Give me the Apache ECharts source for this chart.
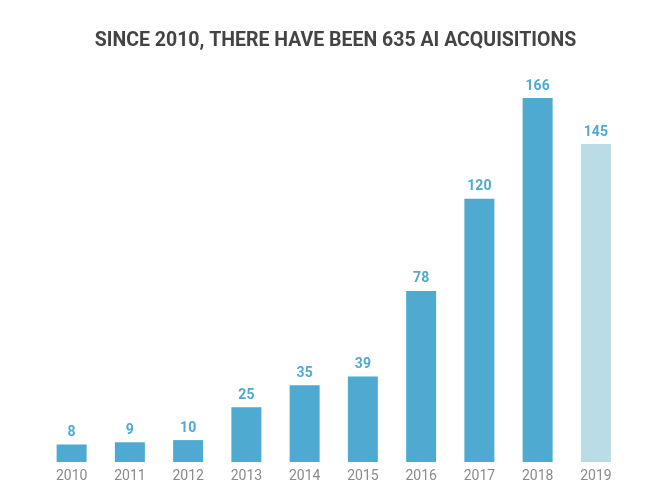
<!DOCTYPE html>
<html>
<head>
<meta charset="utf-8">
<script src="https://cdn.jsdelivr.net/npm/echarts@6/dist/echarts.min.js"></script>
<style>
html,body{margin:0;padding:0;background:#fff;}
#chart{width:671px;height:492px;}
</style>
</head>
<body>
<div id="chart"></div>
<script>
const titleText = 'SINCE 2010, THERE HAVE BEEN 635 AI ACQUISITIONS';
const years = ['2010','2011','2012','2013','2014','2015','2016','2017','2018','2019'];
const acquisitions = [8, 9, 10, 25, 35, 39, 78, 120, 166, 145];
const highlightYear = '2019';

const chart = echarts.init(document.getElementById('chart'));
chart.setOption({
  animation: false,
  title: {
    text: titleText,
    left: 'center',
    top: 26,
    textStyle: {
      fontFamily: 'Roboto',
      fontWeight: 'bold',
      fontSize: 19.5,
      color: '#444444'
    }
  },
  grid: { left: 42.5, right: 46, top: 98, bottom: 30, containLabel: false },
  xAxis: {
    type: 'category',
    data: years,
    axisLine: { show: false },
    axisTick: { show: false },
    axisLabel: { color: '#8a8a8a', fontSize: 14, fontFamily: 'Roboto', margin: 7 }
  },
  yAxis: {
    type: 'value',
    min: 0,
    max: 166,
    show: false,
    splitLine: { show: false }
  },
  series: [{
    type: 'bar',
    barWidth: 30,
    data: acquisitions.map((v, i) => ({
      value: v,
      itemStyle: { color: years[i] === highlightYear ? '#b9dce6' : '#4eaad0' }
    })),
    label: {
      show: true,
      position: 'top',
      distance: 5,
      color: '#4eaad0',
      fontWeight: 'bold',
      fontSize: 14,
      fontFamily: 'Roboto'
    }
  }]
});
</script>
</body>
</html>
